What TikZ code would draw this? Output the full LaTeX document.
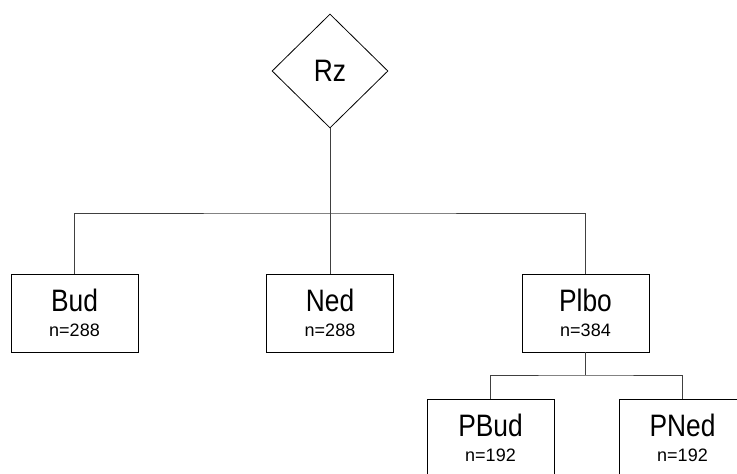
\documentclass[tikz,border=0pt]{standalone}
\usepackage{fontspec}
\setmainfont{Liberation Sans}
\newfontfamily\titlefont[FakeStretch=0.85]{Liberation Sans}
\usetikzlibrary{shapes.geometric, positioning}

\begin{document}
\begin{tikzpicture}[x=1pt,y=-1pt,
    every node/.style={align=center},
    decision/.style={diamond, draw, line width=0.8pt, inner sep=0pt,
      minimum width=116pt, minimum height=114pt, font=\fontsize{31}{25}\titlefont},
    box/.style={rectangle, draw, line width=0.8pt, inner sep=0pt,
      minimum width=127pt, minimum height=78pt, font=\fontsize{31}{25}\titlefont},
    link/.style={draw=black!75, line width=0.8pt}]
  \useasboundingbox (0,0) rectangle (737,474);
  \clip (0,0) rectangle (737,474);

  \node[decision] (rz) at (330,71) {Rz};
  \node[box] (bud) at (74.5,313) {Bud\\{\fontsize{18}{25}\selectfont\normalfont n=288}};
  \node[box] (ned) at (330,313) {Ned\\{\fontsize{18}{25}\selectfont\normalfont n=288}};
  \node[box] (plbo) at (585.5,313) {Plbo\\{\fontsize{18}{25}\selectfont\normalfont n=384}};
  \node[box] (pbud) at (490.5,438) {PBud\\{\fontsize{18}{25}\selectfont\normalfont n=192}};
  \node[box] (pned) at (682.5,438) {PNed\\{\fontsize{18}{25}\selectfont\normalfont n=192}};

  \coordinate (bus) at (0,213);
  \coordinate (sub) at (0,375);

  \path[link]
    (rz.south) -- (ned.north)
    (bud.north) |- (bus -| rz.south) -| (plbo.north)
    (plbo.south) -- (plbo.south |- sub)
    (pbud.north) |- (sub -| plbo.south) -| (pned.north);
\end{tikzpicture}
\end{document}
